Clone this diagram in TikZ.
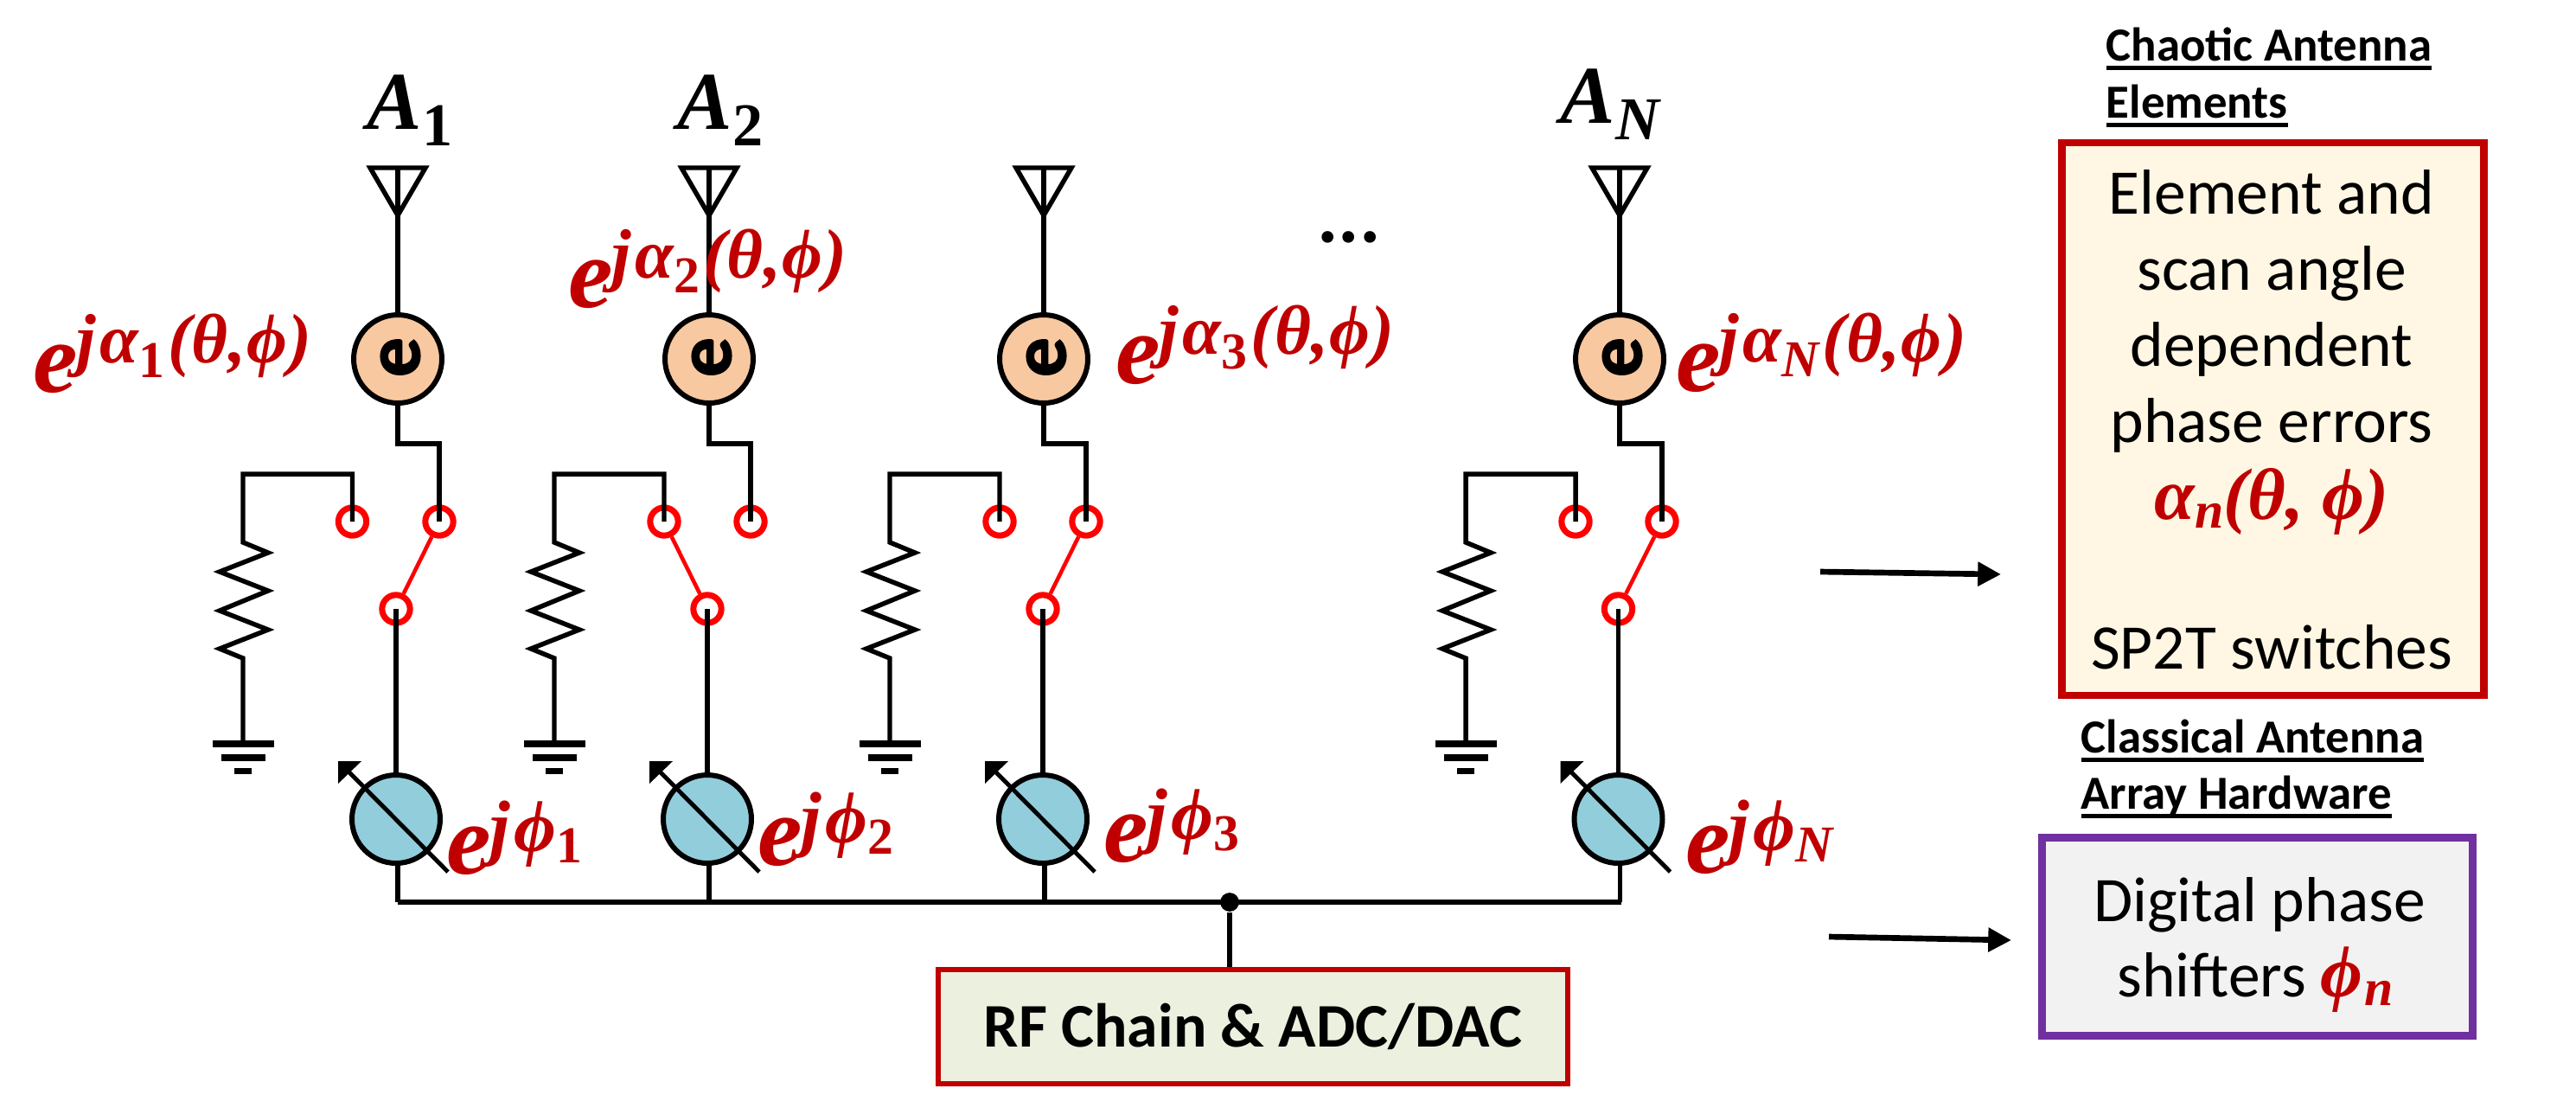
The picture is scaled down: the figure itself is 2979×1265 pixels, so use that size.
\documentclass[tikz,border=0pt]{standalone}
\usepackage{fontspec}
\setmainfont{Carlito}
\newfontfamily\mathbi{Liberation Serif}[BoldFont=Liberation Serif Bold, ItalicFont=Liberation Serif Italic, BoldItalicFont=Liberation Serif Bold Italic]
\newfontfamily\heavy{Carlito Bold}[FakeBold=1.6]
\definecolor{dred}{HTML}{C00000}
\definecolor{swred}{HTML}{FF0000}
\definecolor{peach}{HTML}{F8C8A0}
\definecolor{skyb}{HTML}{92CDDC}
\definecolor{cream}{HTML}{FFF7E3}
\definecolor{lgray}{HTML}{F2F2F2}
\definecolor{pur}{HTML}{7030A0}
\definecolor{sage}{HTML}{EBF1DE}
\newcommand{\bi}{\mathbi\bfseries\itshape}
\newcommand{\ur}{\mathbi\bfseries\upshape}
\newcommand{\fs}[1]{\fontsize{#1}{#1}\selectfont}
\newcommand{\aexp}[1]{{\fs{33}\bi e}\raisebox{9.4pt}{\fs{23}\bi \kern-.5pt j\kern1.4pt α}\raisebox{4.8pt}{#1}\raisebox{9.4pt}{\fs{23}\bi \kern1pt(\kern.3ptθ\kern.2pt,\kern.2ptϕ\kern.4pt)}}
\newcommand{\pexp}[1]{{\fs{33}\bi e}\raisebox{7.4pt}{\fs{24}\bi \kern-.5pt j\kern1.4pt ϕ}\raisebox{3.6pt}{#1}}
\newcommand{\sdig}[1]{\fs{17}\ur #1}
\newcommand{\snit}[1]{\fs{17}\bi #1}
\newcommand{\aname}[1]{{\fs{27}\bi A}\raisebox{-5.6pt}{\fs{20}#1}}
\newcommand{\hul}[1]{\setbox0=\hbox{#1}\rlap{\copy0}\rule[-3pt]{\wd0}{1.2pt}}
\usetikzlibrary{arrows.meta}
\tikzset{
 x=0.01cm,y=-0.01cm,
 wire/.style={draw=black,line width=1.55pt,line join=miter},
 antennashape/.style={draw=black,line width=1.55pt,line join=miter},
 elem/.style={circle,draw=black,fill=peach,line width=1.7pt,minimum size=29pt,inner sep=0pt},
 shifter/.style={circle,draw=black,fill=skyb,line width=1.7pt,minimum size=29pt,inner sep=0pt},
 term/.style={circle,draw=swred,fill=white,line width=2pt,minimum size=9.2pt,inner sep=0pt},
 swarm/.style={draw=swred,line width=1.3pt},
 gnd/.style={draw=none,fill=black},
 head/.style={font=\fs{15.6}\bfseries,anchor=base west,inner sep=0pt},
 tip/.style={-{Triangle[length=7.6pt,width=7.6pt]},draw=black,line width=1.9pt},
 redlab/.style={text=dred,anchor=base west,inner sep=0pt},
 blk/.style={anchor=base,inner sep=0pt,font=\fs{20.9}},
}
\newcommand{\col}[6]{% #1 id, #2 e x, #3 pole x, #4 left term x, #5 right term x, #6 resistor x
 \coordinate (an#1) at (#2,249);
 \node[elem] (e#1) at (#2,415) {};
 \node[inner sep=0pt] (el#1) at (#2+3,413) {\fs{26}\heavy\rotatebox{90}{e}};
 \node[term] (tl#1) at (#4,603) {};
 \node[term] (tr#1) at (#5,603) {};
 \node[term] (po#1) at (#3,704) {};
 \node[shifter] (ps#1) at (#3,947) {};
 \coordinate (rt#1) at (#6,548);
 \coordinate (rb#1) at (#6,856);
 \draw[antennashape] (an#1) -- ++(-32,-55) -- ++(64,0) -- cycle;
 \draw[wire] (an#1) -- ++(0,-55);
 \draw[wire] (an#1) -- (e#1.north);
 \draw[wire] (e#1.south) -- ++(0,44) -| (tr#1.center);
 \draw[wire] (tl#1.center) |- (rt#1) -- (#6,627) -- ++(29,12) -- ++(-56,22) -- ++(56,22) -- ++(-56,23) -- ++(56,22) -- ++(-56,22) -- ++(27,11) -- (rb#1);
 \fill[gnd] (#6-35,856) rectangle (#6+36,864);
 \fill[gnd] (#6-25,872) rectangle (#6+26,880);
 \fill[gnd] (#6-10,888) rectangle (#6+10,895);
 \draw[wire] (po#1.center) -- (ps#1.north);
 \draw[wire] (ps#1.south) -- ++(2,0) |- (#3+2,1043);
 \draw[wire,line width=1.4pt] (#3+60,1008) -- (#3-60,887);
 \fill (#3-67,880) -- (#3-40,880) -- (#3-67,906) -- cycle;
}
\begin{document}
\begin{tikzpicture}
\useasboundingbox (0,0) rectangle (2979,1265);
\col{1}{460}{458}{407.5}{508}{281}
\col{2}{820}{818}{768}{868}{641}
\col{3}{1207}{1206}{1156}{1256}{1029}
\col{4}{1873}{1871.5}{1822}{1922}{1695}
\draw[swarm] (tr1) -- (po1);
\draw[swarm] (tl2) -- (po2);
\draw[swarm] (tr3) -- (po3);
\draw[swarm] (tr4) -- (po4);
\coordinate (b1) at (460,1043);
\coordinate (b4) at (1875,1043);
\draw[wire] (b1) -- (b4);
\node[circle,fill=black,inner sep=0pt,minimum size=6.2pt] (dot) at (1422,1043) {};
\node[draw=dred,fill=sage,line width=1.5pt,minimum width=207pt,minimum height=37.5pt,inner sep=0pt,font=\fs{20.4}\bfseries] (rf) at (1449,1187) {RF Chain \& ADC/DAC};
\draw[wire] (dot) -- (rf.north -| dot);
\node[anchor=base west,inner sep=0pt] (na1) at (424,149) {\aname{\ur 1}};
\node[anchor=base west,inner sep=0pt] (na2) at (783,149) {\aname{\ur 2}};
\node[anchor=base west,inner sep=0pt] (nan) at (1804,142) {\aname{\bi N}};
\node[anchor=base,inner sep=0pt,font=\fs{26}\bfseries] (dots) at (1560,280) {...};
\node[redlab] (la1) at (38,453) {\aexp{\sdig{1}}};
\node[redlab] (la2) at (657,355) {\aexp{\sdig{2}}};
\node[redlab] (la3) at (1290,443) {\aexp{\sdig{3}}};
\node[redlab] (la4) at (1938,452) {\aexp{\snit{N}}};
\node[redlab] (lp1) at (516,1010) {\pexp{\sdig{1}}};
\node[redlab] (lp2) at (876,1000) {\pexp{\sdig{2}}};
\node[redlab] (lp3) at (1276,996) {\pexp{\sdig{3}}};
\node[redlab] (lp4) at (1949,1009) {\pexp{\snit{N}}};
\coordinate (a1s) at (2105,661); \coordinate (a1e) at (2314,664);
\coordinate (a2s) at (2115,1083); \coordinate (a2e) at (2326,1087);
\draw[tip] (a1s) -- (a1e);
\draw[tip] (a2s) -- (a2e);
\node[draw=dred,fill=cream,line width=2.5pt,minimum width=138.6pt,minimum height=181.7pt,inner sep=0pt] (bx1) at (2628.5,484.5) {};
\node[draw=pur,fill=lgray,line width=2.5pt,minimum width=141.5pt,minimum height=65.2pt,inner sep=0pt] (bx2) at (2610.5,1083) {};
\node[blk] (t1) at (2627,247) {Element and};
\node[blk] (t2) at (2627,335) {scan angle};
\node[blk] (t3) at (2627,423) {dependent};
\node[blk] (t4) at (2627,511) {phase errors};
\node[anchor=base,inner sep=0pt,text=dred] (t5) at (2627,600) {{\fs{24}\bi α}\raisebox{-3pt}{\fs{17}\bi n}{\fs{24}\bi (θ, ϕ)}};
\node[blk] (t6) at (2627,773) {SP2T switches};
\node[blk] (t7) at (2613,1065) {Digital phase};
\node[blk] (t8) at (2608,1152) {shifters {\color{dred}{\fs{24}\bi ϕ}\kern.5pt\raisebox{-3pt}{\fs{17}\bi n}}};
\node[head] (h1) at (2435,70) {\hul{Chaotic Antenna}};
\node[head] (h2) at (2435,136) {\hul{Elements}};
\node[head] (h3) at (2406,870) {\hul{Classical Antenna}};
\node[head] (h4) at (2406,935) {\hul{Array Hardware}};
\end{tikzpicture}
\end{document}
